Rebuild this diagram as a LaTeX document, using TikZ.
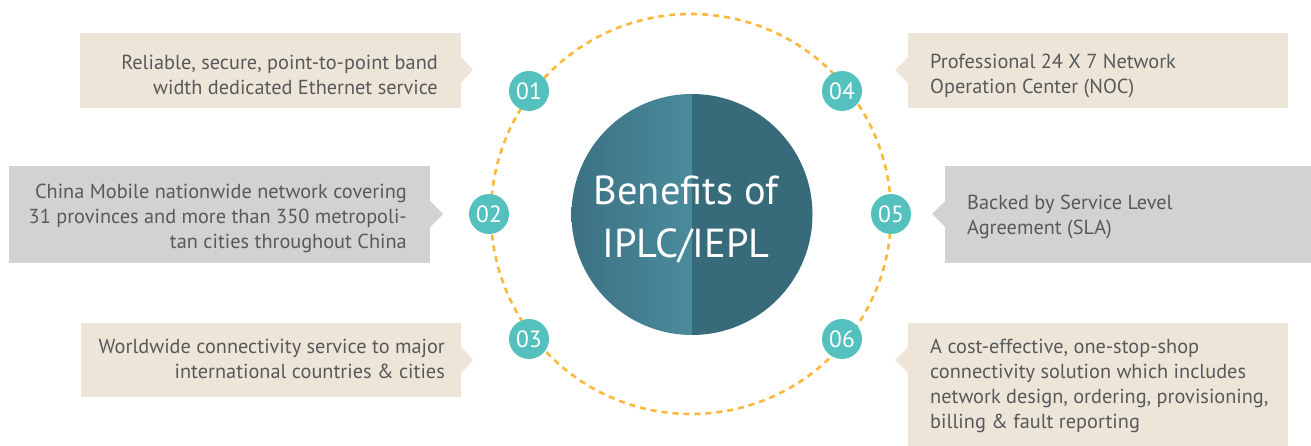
\documentclass[tikz,border=0pt]{standalone}
\usepackage{fontspec}
\setmainfont{PT Sans}
\definecolor{beige}{HTML}{EDE5D7}
\definecolor{greybox}{HTML}{D1D2D4}
\definecolor{teal}{HTML}{55C1BF}
\definecolor{dashorange}{HTML}{FBB83B}
\definecolor{txt}{HTML}{58595B}
\definecolor{coredark}{HTML}{386B7A}
\definecolor{coreleftA}{HTML}{3C7182}
\definecolor{coreleftB}{HTML}{4A8B9C}
\tikzset{
  boxbeige/.style={fill=beige, draw=none, rectangle, inner sep=0pt},
  boxgrey/.style={fill=greybox, draw=none, rectangle, inner sep=0pt},
  lefttext/.style={inner sep=0pt, text=txt, align=right, anchor=north east, font=\fontsize{20.3}{25}\selectfont},
  righttext/.style={inner sep=0pt, text=txt, align=left, anchor=north west, font=\fontsize{20.3}{25}\selectfont},
  numdot/.style={circle, fill=teal, minimum size=40pt, inner sep=0pt, text=white, font=\fontsize{23.5}{23.5}\selectfont},
  ring/.style={draw=dashorange, line width=2.6pt, dash pattern=on 6pt off 5pt}
}
\begin{document}
\begin{tikzpicture}[x=1pt,y=-1pt]
\useasboundingbox (0,0) rectangle (1311,446);
% boxes
\path[boxbeige] (80,33) rectangle (461,108);
\fill[beige] (461,57) -- (473,70) -- (461,83) -- cycle;
\path[boxgrey] (9,166) rectangle (430,263);
\fill[greybox] (430,201) -- (443,214) -- (430,227) -- cycle;
\path[boxbeige] (81,323) rectangle (461,397);
\fill[beige] (461,347) -- (473,360) -- (461,373) -- cycle;
\path[boxbeige] (908,33) rectangle (1288,108);
\fill[beige] (908,57) -- (895,70) -- (908,83) -- cycle;
\path[boxgrey] (945,166) rectangle (1311,263);
\fill[greybox] (945,201) -- (932,214) -- (945,227) -- cycle;
\path[boxbeige] (908,323) rectangle (1288,446);
\fill[beige] (908,347) -- (895,360) -- (908,373) -- cycle;
% texts
\node[lefttext] (t1) at (438,51.5) {\strut Reliable, secure, point-to-point band\\width dedicated Ethernet service\strut};
\node[lefttext] (t2) at (407,180.5) {\strut China Mobile nationwide network covering\\31 provinces and more than 350 metropoli-\\tan cities throughout China\strut};
\node[lefttext] (t3) at (445,335.5) {\strut Worldwide connectivity service to major\\international countries \& cities\strut};
\node[righttext] (t4) at (930,50.5) {\strut Professional 24 X 7 Network\\Operation Center (NOC)\strut};
\node[righttext] (t5) at (967,191.5) {\strut Backed by Service Level\\Agreement (SLA)\strut};
\node[righttext] (t6) at (930,335.5) {\strut A cost-effective, one-stop-shop\\connectivity solution which includes\\network design, ordering, provisioning,\\billing \& fault reporting\strut};
% ring
\draw[ring] (691,214) circle (200pt);
% core
\begin{scope}
\clip (692,214.5) circle (120.5pt);
\shade[left color=coreleftA, right color=coreleftB] (571,90) rectangle (692,340);
\fill[coredark] (692,90) rectangle (814,340);
\end{scope}
\node[inner sep=0pt, anchor=north, text=white, align=center, font=\fontsize{40.5}{53}\selectfont] (title) at (686,166.9) {\strut Benefits of\\IPLC/IEPL\strut};
% numbers
\node[numdot] (n1) at (529,91) {01};
\node[numdot] (n2) at (489,214) {02};
\node[numdot] (n3) at (529,339) {03};
\node[numdot] (n4) at (842,91) {04};
\node[numdot] (n5) at (891,214) {05};
\node[numdot] (n6) at (842,339) {06};
\end{tikzpicture}
\end{document}
